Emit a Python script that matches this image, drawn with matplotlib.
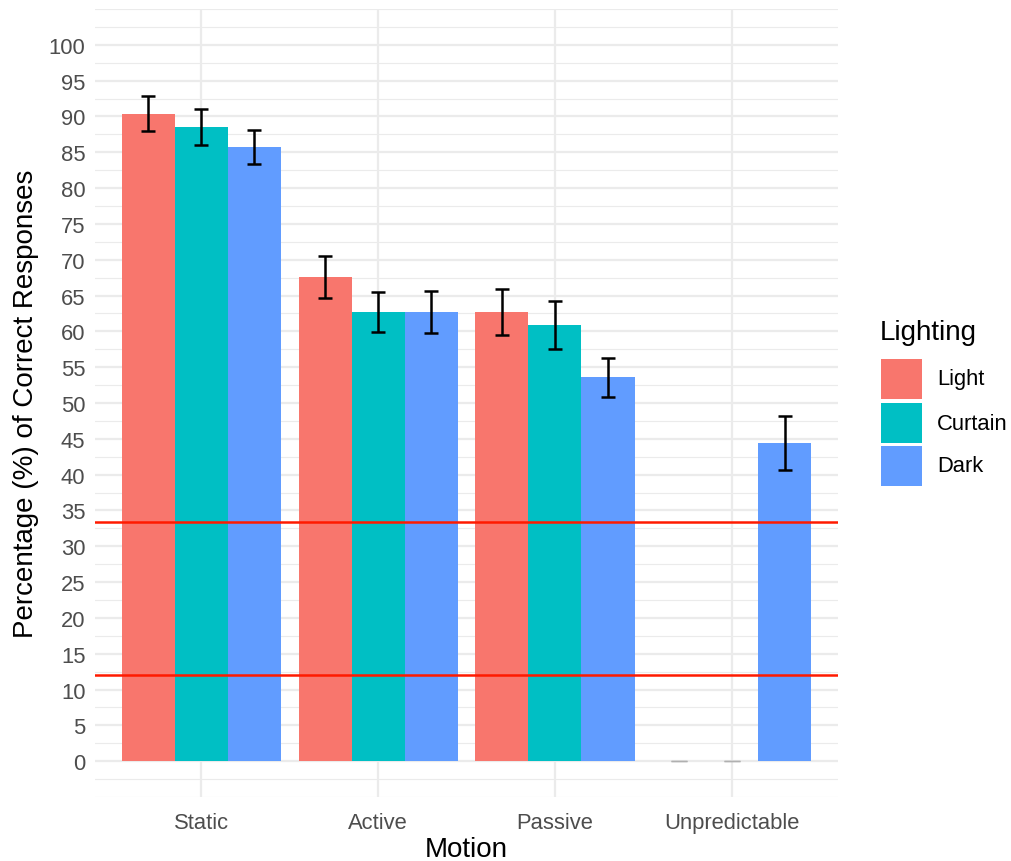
import numpy as np
import matplotlib.pyplot as plt
from matplotlib.patches import Rectangle

plt.rcParams['font.family'] = ['Liberation Sans', 'DejaVu Sans']

motion = ['Static', 'Active', 'Passive', 'Unpredictable']
lighting = ['Light', 'Curtain', 'Dark']
colors = ['#F8766D', '#00BFC4', '#619CFF']

# percentage correct per lighting condition, one entry per motion
light_vals = [90.4, 67.6, 62.7, 0.0]
curtain_vals = [88.5, 62.7, 60.9, 0.0]
dark_vals = [85.7, 62.7, 53.6, 44.4]
light_err = [2.4, 2.9, 3.2, 0.0]
curtain_err = [2.5, 2.85, 3.4, 0.0]
dark_err = [2.4, 2.9, 2.7, 3.8]

chance_lines = [33.33, 12.0]

values = [light_vals, curtain_vals, dark_vals]
errors = [light_err, curtain_err, dark_err]

fig = plt.figure(figsize=(10.12, 8.62), dpi=100)
ax = fig.add_axes([0.094, 0.0742, 0.734, 0.9142])

x = np.arange(1, len(motion) + 1)
width = 0.3

# ggplot minimal-style grid
for y in np.arange(-5, 105.1, 2.5):
    major = (y % 5 == 0) and 0 <= y <= 100
    ax.axhline(y, color='#EBEBEB', lw=1.6 if major else 0.8, zorder=0)
for xi in x:
    ax.axvline(xi, color='#EBEBEB', lw=1.6, zorder=0)

for i, (vals, errs) in enumerate(zip(values, errors)):
    pos = x + (i - 1) * width
    vals = np.array(vals)
    errs = np.array(errs)
    ax.bar(pos, vals, width=width, color=colors[i], zorder=2)
    ok = errs > 0
    ax.errorbar(pos[ok], vals[ok], yerr=errs[ok], fmt='none', ecolor='black',
                elinewidth=1.8, capsize=5, capthick=1.8, zorder=3)
    if (~ok).any():
        # empty cells only leave a faint cap at zero
        ax.errorbar(pos[~ok], vals[~ok], yerr=errs[~ok], fmt='none', ecolor='#B0B0B0',
                    elinewidth=1, capsize=6, capthick=1, zorder=3)

for h in chance_lines:
    ax.axhline(h, color='#FF1A00', lw=1.8, zorder=4)

ax.set_xlim(0.4, 4.6)
ax.set_ylim(-5.0, 105.0)
ax.set_xticks(x)
ax.set_xticklabels(motion)
ax.set_yticks(np.arange(0, 101, 5))
ax.tick_params(axis='both', length=0, labelsize=15.8, colors='#4D4D4D')
ax.tick_params(axis='x', pad=11)
ax.tick_params(axis='y', pad=7)
for s in ax.spines.values():
    s.set_visible(False)

ax.set_xlabel('Motion', fontsize=20, color='black', labelpad=2)
ax.set_ylabel('Percentage (%) of Correct Responses', fontsize=20, color='black', labelpad=7)

# legend drawn in figure pixels to match ggplot key sizes
W, H = 1012, 862
fig.text(880 / W, 1 - 333 / H, 'Lighting', fontsize=20, va='center', ha='left')
key_tops = [360, 404, 447]
for top, c, lab in zip(key_tops, colors, lighting):
    fig.patches.append(Rectangle((881 / W, 1 - (top + 40) / H), 41 / W, 40 / H,
                                 transform=fig.transFigure, facecolor=c,
                                 edgecolor='none', figure=fig))
    fig.text(937 / W, 1 - (top + 20) / H, lab, fontsize=15.8, va='center', ha='left')

fig.savefig('out.png', dpi=100, facecolor='white')
